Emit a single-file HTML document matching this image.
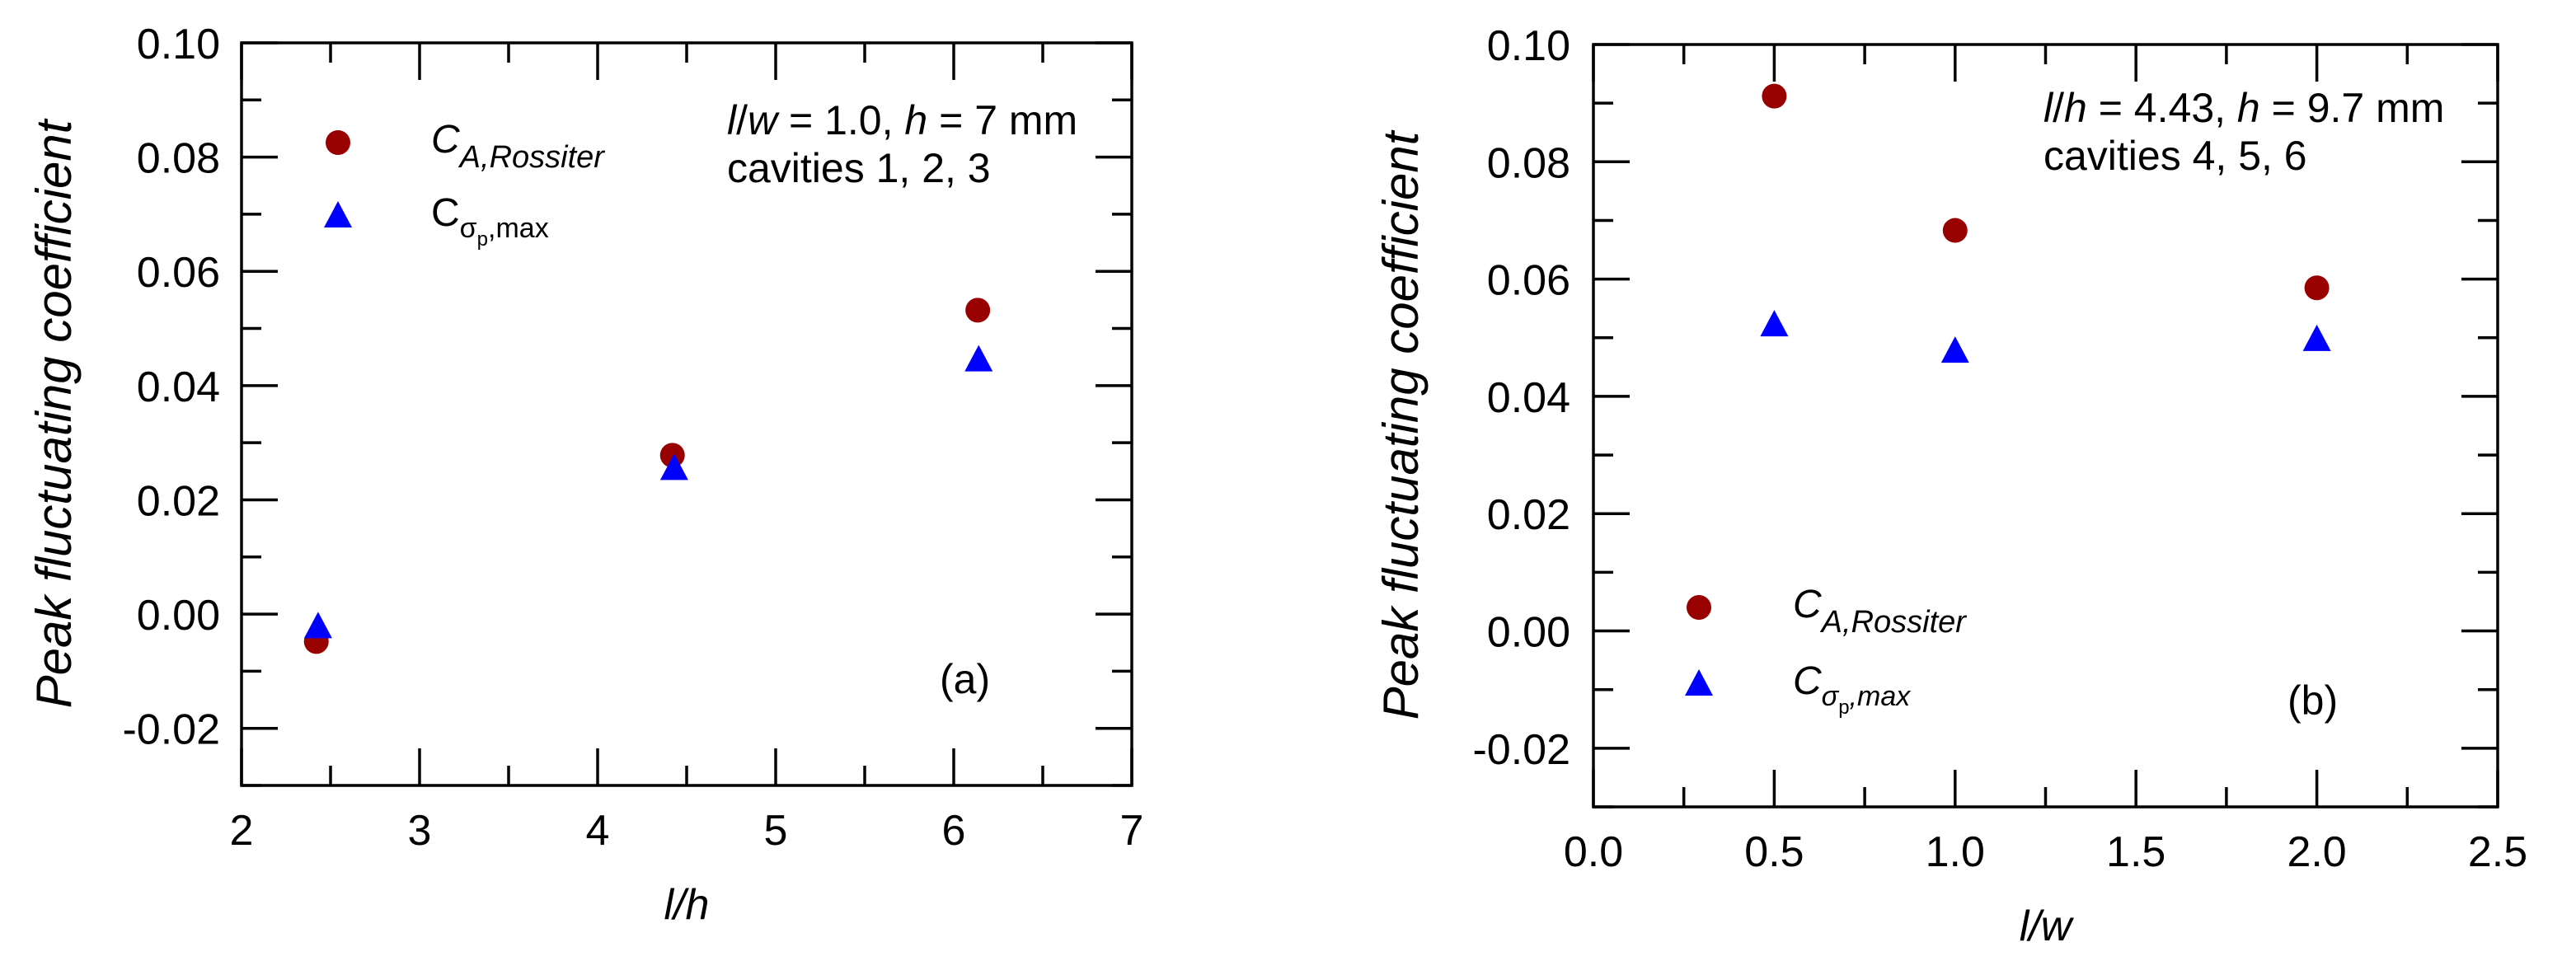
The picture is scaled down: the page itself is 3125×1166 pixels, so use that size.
<!DOCTYPE html>
<html><head><meta charset="utf-8"><style>
html,body{margin:0;padding:0;background:#fff;}
svg{display:block;font-family:"Liberation Sans",Arial,sans-serif;}
</style></head><body>
<svg id="fig" width="3125" height="1166" viewBox="0 0 3125 1166" xmlns="http://www.w3.org/2000/svg"></svg>
<script>
// Panel (a) data
const aX = [2.42, 4.42, 6.135];
const aRossiter = [-0.0048, 0.0278, 0.0532];
const aTriX = [2.43, 4.43, 6.14];
const aSigma = [-0.0022, 0.0255, 0.0445];
const aXTicks = ["2","3","4","5","6","7"];
// Panel (b) data
const bX = [0.5, 1.0, 2.0];
const bRossiter = [0.0912, 0.0683, 0.0585];
const bSigma = [0.0522, 0.0477, 0.0497];
const bXTicks = ["0.0","0.5","1.0","1.5","2.0","2.5"];
const yTicks = ["-0.02","0.00","0.02","0.04","0.06","0.08","0.10"];

const NS="http://www.w3.org/2000/svg";
const svg=document.getElementById('fig');
function mk(tag,attrs,parent){const e=document.createElementNS(NS,tag);for(const k in attrs)e.setAttribute(k,attrs[k]);(parent||svg).appendChild(e);return e;}

function panel(o){
  const g=mk('g',{});
  
  
  const sx=v=>o.L+(v-o.x0)/(o.x1-o.x0)*(o.R-o.L);
  const sy=v=>o.B-(v-(-0.03))/(0.13)*(o.B-o.T);
  const f=mk('rect',{x:o.L,y:o.T,width:o.R-o.L,height:o.B-o.T,fill:'none',stroke:'#000','stroke-width':3.5},g);
  
  
  // y ticks
  for(let i=-3;i<=10;i++){
    const v=i/100,y=sy(v),maj=(i%2===0),len=maj?44:24;
    mk('line',{x1:o.L,x2:o.L+len,y1:y,y2:y,stroke:'#000','stroke-width':3.5},g);
    mk('line',{x1:o.R,x2:o.R-len,y1:y,y2:y,stroke:'#000','stroke-width':3.5},g);
  }
  yTicks.forEach((t,k)=>{
    const v=-0.02+k*0.02;
    const e=mk('text',{x:o.yLabX,y:sy(v)+19,'text-anchor':'end','font-size':52},g);
    e.textContent=t;
    
    
  });
  // x ticks
  const n=o.xTicks.length;
  for(let i=0;i<2*(n-1)+1;i++){
    const v=o.x0+i*(o.x1-o.x0)/(2*(n-1)),x=sx(v),len=(i%2===0)?45:24;
    mk('line',{x1:x,x2:x,y1:o.B,y2:o.B-len,stroke:'#000','stroke-width':3.5},g);
    mk('line',{x1:x,x2:x,y1:o.T,y2:o.T+len,stroke:'#000','stroke-width':3.5},g);
  }
  o.xTicks.forEach((t,k)=>{
    const v=o.x0+k*(o.x1-o.x0)/(n-1);
    const e=mk('text',{x:sx(v),y:o.B+72,'text-anchor':'middle','font-size':52},g);
    e.textContent=t;
    
    
  });
  // axis titles
  const yt=mk('text',{x:0,y:0,transform:`translate(${o.yTitX},${(o.T+o.B)/2}) rotate(-90)`,'text-anchor':'middle','font-size':60,'font-style':'italic'},g);
  yt.textContent='Peak fluctuating coefficient';
  
  
  const xt=mk('text',{x:(o.L+o.R)/2,y:o.B+162,'text-anchor':'middle','font-size':52,'font-style':'italic'},g);
  xt.textContent=o.xTitle;
  
  
  // markers
  o.cx.forEach((xv,i)=>{
    const c=mk('circle',{cx:sx(xv),cy:sy(o.circ[i]),r:15,fill:'#990000'},g);
    
    
  });
  o.tx.forEach((xv,i)=>{
    const x=sx(xv),y=sy(o.tri[i]);
    const p=mk('polygon',{points:`${x-17},${y+14} ${x+17},${y+14} ${x},${y-18}`,fill:'#0000ff'},g);
    
    
  });
  return g;
}

const ga=panel({name:'panel-a',L:293,R:1373,T:52,B:953,x0:2,x1:7,xTicks:aXTicks,yLabX:267,yTitX:86,xTitle:'l/h',cx:aX,circ:aRossiter,tx:aTriX,tri:aSigma});
const gb=panel({name:'panel-b',L:1933,R:3030,T:54,B:979,x0:0,x1:2.5,xTicks:bXTicks,yLabX:1905,yTitX:1720,xTitle:'l/w',cx:bX,circ:bRossiter,tx:bX,tri:bSigma});

function legend(g,cx,cy,ty,tx,italicSub2){
  const c=mk('circle',{cx:cx,cy:cy,r:15,fill:'#990000'},g);
  
  
  const p=mk('polygon',{points:`${cx-17},${ty+14} ${cx+17},${ty+14} ${cx},${ty-18}`,fill:'#0000ff'},g);
  
  
  const t1=mk('text',{x:tx,y:cy+12,'font-size':48},g);
  t1.innerHTML='<tspan font-style="italic">C</tspan><tspan font-style="italic" font-size="38" dy="18">A,Rossiter</tspan>';
  
  
  const t2=mk('text',{x:tx,y:ty+12,'font-size':48},g);
  const st=italicSub2?'italic':'normal';
  t2.innerHTML=`<tspan font-style="${st}">C</tspan><tspan font-size="34" dy="14" font-style="${st}">σ</tspan><tspan font-size="24" dy="10">p</tspan><tspan font-size="34" dy="-10" font-style="${st}">,max</tspan>`;
  
  
}
legend(ga,410,173,262,523,false);
legend(gb,2061,737,830,2175,true);

function note(g,x,y,html,name,size){
  const e=mk('text',{x:x,y:y,'font-size':size||50},g);
  e.innerHTML=html;
  
  
}
note(ga,882,163,'<tspan font-style="italic">l</tspan>/<tspan font-style="italic">w</tspan> = 1.0, <tspan font-style="italic">h</tspan> = 7 mm','condition-annotation');
note(ga,882,221,'cavities 1, 2, 3','cavities-annotation');
note(ga,1140,841,'(a)','panel-label');
note(gb,2479,148,'<tspan font-style="italic">l</tspan>/<tspan font-style="italic">h</tspan> = 4.43, <tspan font-style="italic">h</tspan> = 9.7 mm','condition-annotation');
note(gb,2479,206,'cavities 4, 5, 6','cavities-annotation');
note(gb,2775,867,'(b)','panel-label');
</script>
</body></html>
